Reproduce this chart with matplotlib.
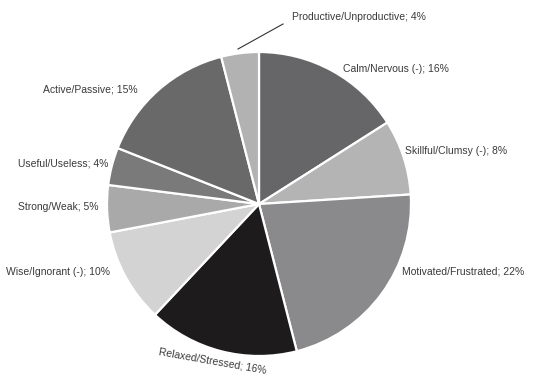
import matplotlib
matplotlib.use('Agg')
import matplotlib.pyplot as plt

# slice data, clockwise from 12 o'clock
labels = ['Calm/Nervous (-)', 'Skillful/Clumsy (-)', 'Motivated/Frustrated',
          'Relaxed/Stressed', 'Wise/Ignorant (-)', 'Strong/Weak',
          'Useful/Useless', 'Active/Passive', 'Productive/Unproductive']
shares = [16, 8, 22, 16, 10, 5, 4, 15, 4]
colors = ['#666668', '#b4b4b4', '#8a8a8d', '#1d1b1c', '#d3d3d3',
          '#a9a9a9', '#7a7a7b', '#69696a', '#b2b2b2']

# label anchors in pixel space, measured from the top: (x, y, ha, rotation)
label_pos = [
    (343, 69, 'left', 0),
    (405, 151, 'left', 0),
    (402, 272, 'left', 0),
    (213, 361, 'center', -10),
    (110, 272, 'right', 0),
    (98, 207, 'right', 0),
    (108, 164, 'right', 0),
    (138, 90, 'right', 0),
    (292, 17, 'left', 0),
]


def main():
    W, H = 542, 381
    fig = plt.figure(figsize=(W / 100, H / 100), dpi=100)
    ax = fig.add_axes([0, 0, 1, 1])

    cx, cy, r = 259, 204, 152
    ax.pie(shares, colors=colors, startangle=90, counterclock=False,
           center=(cx, H - cy), radius=r, frame=True,
           wedgeprops=dict(edgecolor='white', linewidth=1.6))
    ax.set_xlim(0, W)
    ax.set_ylim(0, H)
    ax.set_aspect('equal')
    ax.axis('off')

    fam = ['Liberation Sans Narrow', 'Liberation Sans', 'DejaVu Sans']
    for name, val, (x, y, ha, rot) in zip(labels, shares, label_pos):
        ax.text(x, H - y, f'{name}; {val}%', ha=ha, va='center', rotation=rot,
                fontsize=7.5, family=fam, color='#3a3a3a',
                rotation_mode='anchor')

    # leader line for the small top slice
    ax.plot([238, 283], [H - 49, H - 24], color='#333333', lw=0.8)

    fig.savefig('out.png', dpi=100)


if __name__ == '__main__':
    main()
